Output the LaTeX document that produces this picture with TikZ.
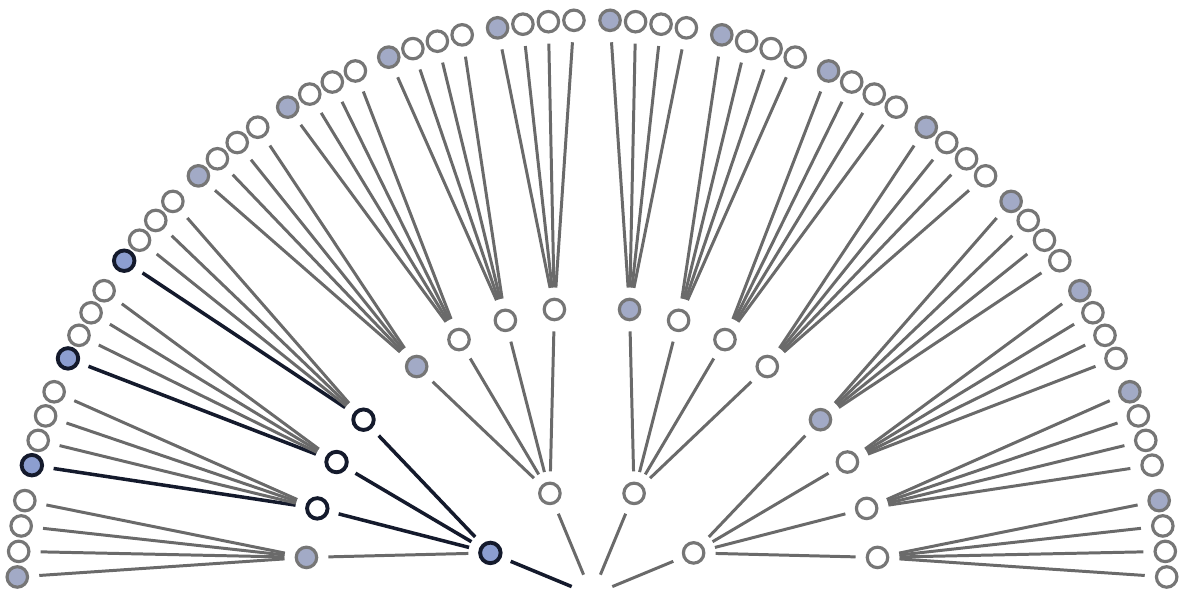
\documentclass[tikz,border=0pt]{standalone}
\usetikzlibrary{calc}
\definecolor{linegray}{HTML}{6A6A6A}
\definecolor{ringgray}{HTML}{767676}
\definecolor{softblue}{HTML}{A2AAC6}
\definecolor{deepblue}{HTML}{8C9ED0}
\definecolor{pathdark}{HTML}{141A2C}

\begin{document}
\begin{tikzpicture}[
    ring/.style={circle, draw=ringgray, line width=1.8pt, fill=white, minimum size=0.41cm, inner sep=0pt, outer sep=0.235cm},
    filled/.style={ring, fill=softblue},
    hotring/.style={ring, draw=pathdark, line width=2.2pt},
    hotfilled/.style={hotring, fill=deepblue},
    edge/.style={draw=linegray, line width=1.7pt},
    hotedge/.style={draw=pathdark, line width=2pt}
  ]
  \useasboundingbox (-11.84,0.02) rectangle (11.96,11.9);
  \node[ring, draw=none, fill=none] (root) at (0,0) {};
  % inner ring
  \foreach \i in {1,...,4}{
    \def\ps{ring}\def\es{edge}
    \ifnum\i=1 \def\ps{hotfilled}\def\es{hotedge}\fi
    \node[\ps] (p\i) at (202.5-45*\i:2.2) {};
    \draw[\es] (root) -- (p\i);
  }
  % middle ring
  \foreach \i in {1,...,4}
    \foreach \j in {1,...,4}{
      \pgfmathsetmacro\qa{227.5-45*\i-10*\j}
      \pgfmathtruncatemacro\hot{and(\i==1,\j>1)}
      \def\qs{ring}\def\es{edge}
      \ifnum\j=1 \def\qs{filled}\fi
      \ifnum\hot=1 \def\qs{hotring}\def\es{hotedge}\fi
      \node[\qs] (q\i\j) at (\qa:5.76) {};
      \draw[\es] (p\i) -- (q\i\j);
    }
  % outer ring
  \foreach \i in {1,...,4}
    \foreach \j in {1,...,4}
      \foreach \k in {1,...,4}{
        \pgfmathsetmacro\ra{180-11.25*(4*\i+\j-5)-1.8-2.55*(\k-1)}
        \pgfmathtruncatemacro\hot{and(\i==1,and(\j>1,\k==1))}
        \def\rs{ring}\def\es{edge}
        \ifnum\k=1 \def\rs{filled}\fi
        \ifnum\hot=1 \def\rs{hotfilled}\def\es{hotedge}\fi
        \node[\rs] (r\i\j\k) at (\ra:11.5) {};
        \draw[\es] (q\i\j) -- (r\i\j\k);
      }
\end{tikzpicture}
\end{document}
